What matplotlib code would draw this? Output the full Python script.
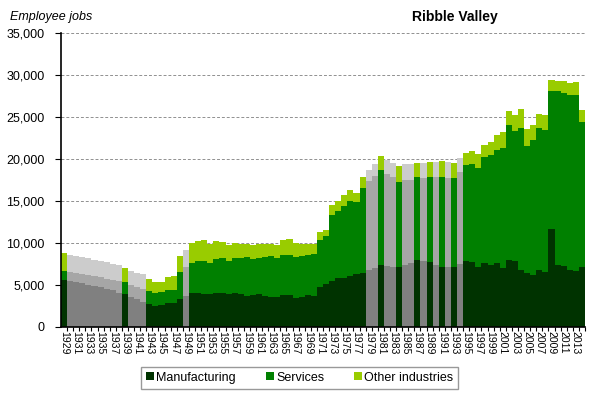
import numpy as np
import matplotlib
matplotlib.use("Agg")
import matplotlib.pyplot as plt
import matplotlib.ticker as ticker
from matplotlib.patches import Patch

plt.rcParams['font.family'] = ['Liberation Sans', 'DejaVu Sans']

years = list(range(1929, 2015))

manufacturing = [5560, 5440, 5320, 5160, 5010, 4850, 4690, 4530, 4370, 4050,   # 1929-1938
                 3890, 3580, 3260, 2940, 2700, 2470, 2590, 2780, 2860, 3300,   # 1939-1948
                 3700, 4010, 4010, 3930, 3890, 4010, 4010, 3890, 3970, 3850,   # 1949-1958
                 3700, 3780, 3850, 3660, 3540, 3500, 3780, 3780, 3460, 3580,   # 1959-1968
                 3740, 3660, 4770, 5080, 5440, 5760, 5840, 6040, 6240, 6430,   # 1969-1978
                 6750, 6950, 7350, 7230, 7150, 7150, 7350, 7620, 7940, 7860,   # 1979-1988
                 7700, 7350, 7150, 7150, 7150, 7460, 7860, 7740, 7150, 7540,   # 1989-1998
                 7350, 7540, 6990, 7940, 7820, 6750, 6430, 6200, 6750, 6510,   # 1999-2008
                 11630, 7350, 7230, 6750, 6630, 7150]                          # 2009-2014

services = [1070, 1070, 1070, 1120, 1150, 1150, 1190, 1190, 1190, 1350,
            1430, 1390, 1510, 1590, 1550, 1580, 1540, 1590, 1510, 3210,
            3450, 3540, 3810, 3890, 3660, 4050, 4130, 3930, 4250, 4290,
            4600, 4280, 4330, 4600, 4840, 4720, 4760, 4720, 4880, 4840,
            4800, 5000, 5550, 5720, 7940, 8010, 8570, 8920, 8650, 10070,
            10650, 10990, 11310, 10950, 10750, 10120, 10110, 9920, 9920, 9920,
            10160, 10510, 10710, 10630, 10590, 11000, 11470, 11710, 11780, 12700,
            13150, 13500, 14320, 16070, 15480, 16950, 15080, 16030, 16950, 16910,
            16430, 20710, 20630, 20950, 21030, 17260]

other = [2150, 1990, 2030, 1980, 1980, 1980, 1940, 1940, 1950, 1910,
         1710, 1660, 1660, 1710, 1430, 1230, 1150, 1590, 1670, 1910,
         1980, 2380, 2420, 2500, 2340, 2140, 1980, 1950, 1790, 1780,
         1550, 1670, 1630, 1630, 1470, 1550, 1780, 1940, 1660, 1470,
         1350, 1260, 1030, 790, 1110, 1230, 1350, 1390, 1110, 1300,
         1260, 1510, 1660, 1760, 1650, 1860, 1990, 1910, 1710, 1790,
         1790, 1790, 1870, 1870, 1830, 1620, 1350, 1470, 1710, 1470,
         1500, 1780, 1910, 1670, 1900, 2220, 2030, 1780, 1700, 1780,
         1430, 1310, 1510, 1390, 1590, 1390]

# years drawn in grey (estimated)
estimated = [1930, 1931, 1932, 1933, 1934, 1935, 1936, 1937, 1938,
             1940, 1941, 1942, 1949, 1979, 1980, 1982, 1983, 1985, 1986,
             1988, 1990, 1992, 1994]

labels = ['Manufacturing', 'Services', 'Other industries']
colours = ['#003300', '#008000', '#99CC00']
greys = ['#808080', '#A6A6A6', '#CCCCCC']

x = np.arange(len(years))
series = [np.array(manufacturing), np.array(services), np.array(other)]

fig = plt.figure(figsize=(6.01, 3.99), dpi=100)
ax = fig.add_axes([0.1015, 0.1812, 0.8719, 0.7353])

bottom = np.zeros(len(years))
for s, c, g in zip(series, colours, greys):
    cols = [g if y in estimated else c for y in years]
    ax.bar(x, s, bottom=bottom, width=1.0, color=cols, linewidth=0, zorder=2)
    bottom = bottom + s

ax.set_xlim(-0.5, len(years) - 0.5)
ax.set_ylim(0, 35000)
ax.yaxis.set_major_locator(ticker.MultipleLocator(5000))
ax.yaxis.set_major_formatter(ticker.FuncFormatter(lambda v, p: f'{int(v):,}'))
ax.grid(axis='y', color='#909090', linestyle=(0, (3, 2)), linewidth=0.7, zorder=0)

ax.set_xticks(x[::2])
ax.set_xticklabels([str(y) for y in years[::2]], rotation=270)
ax.set_xticks(x + 0.5, minor=True)
ax.tick_params(axis='x', which='major', length=0, pad=3, labelsize=7.5)
ax.tick_params(axis='x', which='minor', length=3, width=0.8, direction='out')
ax.tick_params(axis='y', length=4, width=0.8, labelsize=9, pad=8)

for side in ['top', 'right']:
    ax.spines[side].set_visible(False)
ax.spines['left'].set_linewidth(1.2)
ax.spines['bottom'].set_linewidth(1.2)

fig.text(0.017, 0.958, 'Employee jobs', fontsize=9, style='italic', va='center')
fig.text(0.757, 0.958, 'Ribble Valley', fontsize=10, weight='bold', va='center', ha='center')

handles = [Patch(facecolor=c, edgecolor='none') for c in colours]
leg = fig.legend(handles, labels, loc='center', bbox_to_anchor=(0.499, 0.053), ncol=3,
                 fontsize=9, frameon=True, fancybox=False, edgecolor='#808080',
                 handlelength=0.6, handleheight=0.6, handletextpad=0.2,
                 columnspacing=2.4, borderpad=0.4, borderaxespad=0)
leg.get_frame().set_linewidth(1.0)

fig.savefig('out.png', dpi=100)
